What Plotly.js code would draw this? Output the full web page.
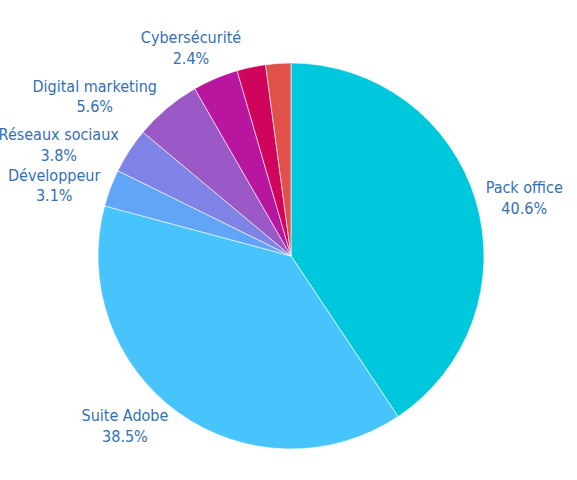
<!DOCTYPE html>
<html>
<head>
<meta charset="utf-8">
<script src="https://cdn.plot.ly/plotly-3.0.1.min.js"></script>
<style>html,body{margin:0;padding:0;background:#fff;}#chart{width:577px;height:480px;}</style>
</head>
<body>
<div id="chart"></div>
<script>
const labels = ["Pack office", "Suite Adobe", "Développeur", "Réseaux sociaux", "Digital marketing", "Design graphique", "Cybersécurité", "Gestion de projet"];
const values = [40.6, 38.5, 3.1, 3.8, 5.6, 3.8, 2.4, 2.1];
const showLabel = [true, true, true, true, true, false, true, false];
const colors = ["#00c8dc", "#47c4fc", "#61a5f9", "#7f83e6", "#9b59c8", "#b8169e", "#d0045c", "#e0514a"];

const texts = labels.map((l, i) => showLabel[i] ? l + "<br>" + values[i].toFixed(1) + "%" : "");

Plotly.newPlot("chart", [{
  type: "pie",
  labels: labels,
  values: values,
  text: texts,
  textinfo: "text",
  texttemplate: "%{text}",
  hoverinfo: "label+percent",
  textposition: "outside",
  sort: false,
  direction: "clockwise",
  rotation: 0,
  marker: {colors: colors, line: {color: "#ffffff", width: 0.6}},
  outsidetextfont: {family: "DejaVu Sans Condensed, sans-serif", size: 16, color: "#3370b5"},
  showlegend: false
}], {
  width: 577,
  height: 480,
  margin: {l: 60, r: 55, t: 63, b: 31},
  paper_bgcolor: "#ffffff",
  showlegend: false
}, {displayModeBar: false});
</script>
</body>
</html>
